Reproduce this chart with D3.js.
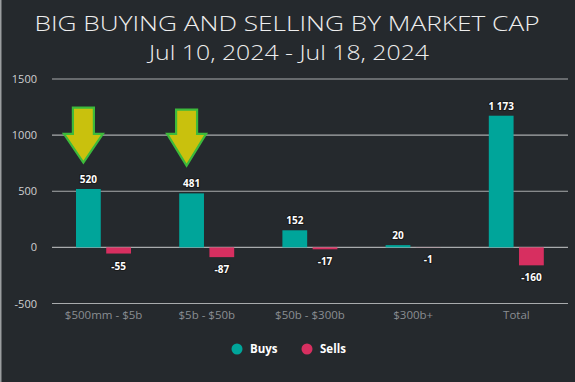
<!DOCTYPE html>
<html><head><meta charset="utf-8">
<script src="https://cdn.jsdelivr.net/npm/d3@7/dist/d3.min.js"></script>
<style>
html,body{margin:0;padding:0;background:#25292d;}
svg{display:block;}
</style></head>
<body>
<script>
const categories = ["$500mm - $5b", "$5b - $50b", "$50b - $300b", "$300b+", "Total"];
const seriesNames = ["Buys", "Sells"];
const buys = [520, 481, 152, 20, 1173];
const sells = [-55, -87, -17, -1, -160];
const yTicks = [-500, 0, 500, 1000, 1500];
const titleLines = ["BIG BUYING AND SELLING BY MARKET CAP", "Jul 10, 2024 - Jul 18, 2024"];
// annotation arrows: [category index, shaft top value, head value, tip value]
const arrows = [[0, 1245, 1012, 755], [1, 1228, 1012, 728]];

const W = 575, H = 382;
const colors = {Buys: "#00a59a", Sells: "#d72f60"};
const svg = d3.select("body").append("svg").attr("width", W).attr("height", H);
svg.append("rect").attr("width", W).attr("height", H).attr("fill", "#25292d");
svg.append("rect").attr("x", 0).attr("y", 0).attr("width", 1.5).attr("height", H).attr("fill", "#9b9ea0");

const font = "'Open Sans', sans-serif";
// title
svg.append("text").attr("x", 287).attr("y", 31).attr("text-anchor", "middle")
  .attr("font-family", font).attr("font-size", 21).attr("font-weight", 300).attr("fill", "#eeeeee")
  .attr("textLength", 505).attr("lengthAdjust", "spacingAndGlyphs").text(titleLines[0]);
svg.append("text").attr("x", 289).attr("y", 60).attr("text-anchor", "middle")
  .attr("font-family", font).attr("font-size", 21).attr("font-weight", 300).attr("fill", "#eeeeee")
  .attr("textLength", 280).attr("lengthAdjust", "spacingAndGlyphs").text(titleLines[1]);

const x0 = d3.scaleBand().domain(categories).range([52, 568]).padding(0);
const x1 = d3.scaleBand().domain(seriesNames).range([24, 79]).paddingInner(0.18).paddingOuter(0);
const y = d3.scaleLinear().domain([-500, 1500]).range([303.5, 79]);

const hy = v => String(v).replace("\u2212", "-");
const fmt0 = d3.formatLocale({decimal: ".", thousands: " ", grouping: [3], currency: ["", ""], minus: "-"}).format(",d");
const fmtAxis = d3.formatLocale({decimal: ".", thousands: "", grouping: [3], currency: ["", ""], minus: "-"}).format("d");

// grid
svg.append("g").selectAll("line").data(yTicks).join("line")
  .attr("x1", 52).attr("x2", 568).attr("y1", d => y(d)).attr("y2", d => y(d))
  .attr("stroke", "#a9abad").attr("stroke-width", 1.2);
// y axis labels
const yAxis = d3.axisLeft(y).tickValues(yTicks).tickSize(0).tickPadding(0).tickFormat(fmtAxis);
const gy = svg.append("g").attr("transform", "translate(37,0)").call(yAxis);
gy.select(".domain").remove();
gy.selectAll("text").attr("font-family", font).attr("font-size", 11).attr("fill", "#cfd0d1");

// x axis labels
const xAxis = d3.axisBottom(x0).tickSize(0).tickPadding(0);
const gx = svg.append("g").attr("transform", "translate(0,311)").call(xAxis);
gx.select(".domain").remove();
gx.selectAll("text").attr("font-family", font).attr("font-size", 11.5).attr("fill", "#8a8e92");

const data = categories.map((c, i) => ({cat: c, vals: [{k: "Buys", v: buys[i]}, {k: "Sells", v: sells[i]}]}));
const groups = svg.append("g").selectAll("g").data(data).join("g")
  .attr("transform", d => `translate(${x0(d.cat)},0)`);
groups.selectAll("rect").data(d => d.vals).join("rect")
  .attr("x", d => x1(d.k)).attr("width", x1.bandwidth())
  .attr("y", d => y(Math.max(0, d.v))).attr("height", d => Math.abs(y(d.v) - y(0)))
  .attr("fill", d => colors[d.k]);

groups.selectAll("text").data(d => d.vals).join("text")
  .attr("x", d => x1(d.k) + x1.bandwidth() / 2)
  .attr("y", d => d.v >= 0 ? y(d.v) - 6 : y(d.v) + 16)
  .attr("text-anchor", "middle").attr("font-family", font).attr("font-weight", 700)
  .attr("font-size", 10).attr("fill", "#ffffff").attr("stroke", "#1a1a1a").attr("stroke-width", 2.2)
  .attr("paint-order", "stroke").attr("stroke-linejoin", "round")
  .text(d => hy(fmt0(d.v)));

// arrows
arrows.forEach(([ci, top, head, tip]) => {
  const cx = x0(categories[ci]) + x1("Buys") + x1.bandwidth() / 2 - 5;
  const sw = 10.5, hw = 19.5;
  const pts = [[cx - sw, y(top)], [cx + sw, y(top)], [cx + sw, y(head)], [cx + hw, y(head)],
               [cx, y(tip)], [cx - hw, y(head)], [cx - sw, y(head)]];
  svg.append("path").attr("d", d3.line()(pts) + "Z")
    .attr("fill", "#c9c10d").attr("stroke", "#3dba3b").attr("stroke-width", 2.2)
    .attr("stroke-linejoin", "miter");
});

// legend
const legend = svg.append("g").attr("transform", "translate(0,349)");
const lx = [237, 307];
seriesNames.forEach((s, i) => {
  legend.append("circle").attr("cx", lx[i]).attr("cy", 0).attr("r", 5.5).attr("fill", colors[s]);
  legend.append("text").attr("x", lx[i] + 13).attr("y", 4).attr("font-family", font)
    .attr("font-weight", 700).attr("font-size", 11.5).attr("fill", "#ffffff").text(s);
});
</script>
</body></html>
